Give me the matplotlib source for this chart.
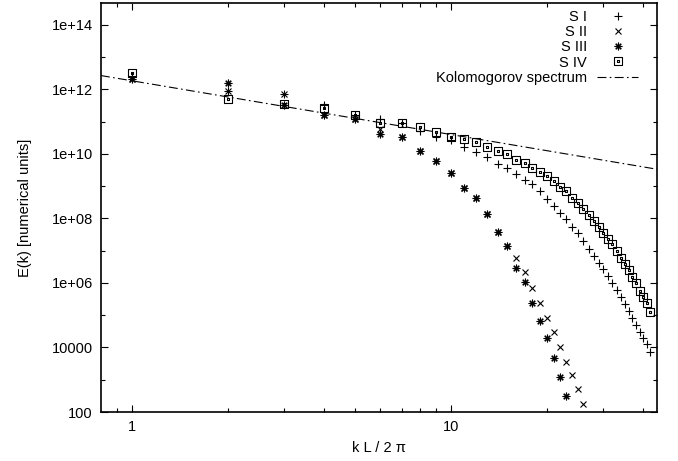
import numpy as np
import matplotlib
matplotlib.use("Agg")
import matplotlib.pyplot as plt
from matplotlib.path import Path
from matplotlib.ticker import FixedLocator, FixedFormatter, NullFormatter

plt.rcParams['font.family'] = ['Liberation Sans', 'DejaVu Sans']

# ---------------- data (log10 of E(k)) ----------------
k_s1 = np.arange(1, 43)
log_s1 = [12.42, 11.95, 11.85, 11.51, 11.22, 11.08, 10.95, 10.72, 10.54, 10.43,
          10.21, 10.07, 9.92, 9.69, 9.56, 9.37, 9.19, 9.07, 8.85, 8.60,
          8.40, 8.18, 7.98, 7.75, 7.56, 7.29, 7.05, 6.85, 6.63, 6.43,
          6.23, 5.99, 5.78, 5.56, 5.35, 5.14, 4.92, 4.70, 4.49, 4.29,
          4.10, 3.85]

k_s2 = np.arange(1, 27)
log_s2 = [12.33, 11.95, 11.85, 11.20, 11.10, 10.79, 10.54, 10.09, 9.78, 9.42,
          8.96, 8.65, 8.14, 7.58, 7.15, 6.77, 6.35, 5.86, 5.39, 4.92,
          4.49, 4.00, 3.56, 3.15, 2.70, 2.25]

k_s3 = np.arange(1, 24)
log_s3 = [12.34, 12.20, 11.51, 11.20, 11.10, 10.63, 10.54, 10.09, 9.78, 9.42,
          8.96, 8.65, 8.14, 7.58, 7.15, 6.46, 6.04, 5.39, 4.83, 4.30,
          3.67, 3.08, 2.50]

k_s4 = np.arange(1, 43)
log_s4 = [12.51, 11.72, 11.56, 11.44, 11.22, 10.97, 10.95, 10.85, 10.67, 10.54,
          10.46, 10.36, 10.23, 10.08, 9.99, 9.81, 9.73, 9.56, 9.44, 9.31,
          9.15, 8.97, 8.84, 8.65, 8.49, 8.29, 8.11, 7.93, 7.75, 7.56,
          7.37, 7.20, 6.99, 6.79, 6.60, 6.39, 6.18, 5.99, 5.75, 5.58,
          5.37, 5.09]

kolmo_amp = 1.86e12
kolmo_slope = -5.0 / 3.0

labels = ["S I", "S II", "S III", "S IV", "Kolomogorov spectrum"]
ytick_vals = [1e2, 1e4, 1e6, 1e8, 1e10, 1e12, 1e14]
ytick_labels = ["100", "10000", "1e+06", "1e+08", "1e+10", "1e+12", "1e+14"]
xtick_vals = [1, 10]
xtick_labels = ["1", "10"]
xlim = (0.8, 44.2)
ylim = (100, 4.8e14)

# ---------------- markers ----------------
# gnuplot-like asterisk (+ and x combined)
ast = (8, 2, 0)
# square with centre dot
d = 0.14
sq_verts = [(-1, -1), (1, -1), (1, 1), (-1, 1), (-1, -1),
            (-d, -d), (d, -d), (d, d), (-d, d), (-d, -d)]
sq_codes = [Path.MOVETO, Path.LINETO, Path.LINETO, Path.LINETO, Path.CLOSEPOLY,
            Path.MOVETO, Path.LINETO, Path.LINETO, Path.LINETO, Path.CLOSEPOLY]
sq_marker = Path(sq_verts, sq_codes)

W, H = 678, 461
fig = plt.figure(figsize=(W / 100, H / 100), dpi=100)
ax = fig.add_axes([101 / W, (H - 412) / H, 556 / W, 409 / H])
ax.set_xscale('log')
ax.set_yscale('log')

mew = 0.8
ax.plot(k_s1, 10 ** np.array(log_s1), linestyle='none', marker='+', ms=6,
        mew=mew, color='black', label=labels[0])
ax.plot(k_s2, 10 ** np.array(log_s2), linestyle='none', marker='x', ms=4.5,
        mew=mew, color='black', label=labels[1])
ax.plot(k_s3, 10 ** np.array(log_s3), linestyle='none', marker=ast, ms=5.5,
        mew=mew, color='black', label=labels[2])
ax.plot(k_s4, 10 ** np.array(log_s4), linestyle='none', marker=sq_marker, ms=5.2,
        mew=mew, color='black', mfc='none', label=labels[3])

kk = np.logspace(np.log10(xlim[0]), np.log10(xlim[1]), 50)
ax.plot(kk, kolmo_amp * kk ** kolmo_slope, color='black', lw=0.8,
        dashes=(8, 3, 1.5, 3), label=labels[4])

ax.set_xlim(*xlim)
ax.set_ylim(*ylim)

ax.yaxis.set_major_locator(FixedLocator(ytick_vals))
ax.yaxis.set_major_formatter(FixedFormatter(ytick_labels))
ax.yaxis.set_minor_locator(FixedLocator([1e3, 1e5, 1e7, 1e9, 1e11, 1e13]))
ax.yaxis.set_minor_formatter(NullFormatter())
ax.xaxis.set_major_locator(FixedLocator(xtick_vals))
ax.xaxis.set_major_formatter(FixedFormatter(xtick_labels))
ax.xaxis.set_minor_locator(FixedLocator([0.9, 2, 3, 4, 5, 6, 7, 8, 9, 20, 30, 40]))
ax.xaxis.set_minor_formatter(NullFormatter())

ax.tick_params(which='both', direction='in', top=True, right=True,
               labelsize=10.5, width=0.8, color='black')
ax.tick_params(which='major', length=5, pad=6)
ax.tick_params(which='minor', length=3)
for s in ax.spines.values():
    s.set_linewidth(1.2)
    s.set_color('black')

ax.set_xlabel("k L / 2 π", fontsize=10.5, labelpad=5)
ax.set_ylabel("E(k) [numerical units]", fontsize=10.5, labelpad=14)

leg = ax.legend(loc='upper right', bbox_to_anchor=(1 - 19 / 556, 1 - 7 / 409),
                frameon=False, markerfirst=False, fontsize=10.5,
                handlelength=2.8, handletextpad=0.7, labelspacing=0.08,
                borderaxespad=0, borderpad=0)

fig.savefig("out.png", dpi=100)
